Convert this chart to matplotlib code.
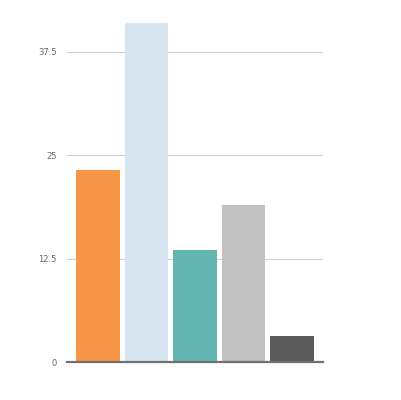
import matplotlib.pyplot as plt

values = [23.2, 41.0, 13.5, 19.0, 3.1]
bar_colors = ['#F79646', '#D6E5F0', '#64B5B0', '#C0C0C0', '#5B5B5B']
y_ticks = [0, 12.5, 25, 37.5]
y_tick_labels = ['0', '12.5', '25', '37.5']

fig = plt.figure(figsize=(4.02, 4.0), dpi=100)
ax = fig.add_axes([0.1667, 0.095, 0.6368, 0.859])

ax.bar(range(len(values)), values, width=0.9, color=bar_colors, zorder=2)

ax.set_xlim(-0.64, len(values) - 1 + 0.64)
ax.set_ylim(0, 41.5)
ax.set_yticks(y_ticks)
ax.set_yticklabels(y_tick_labels)
ax.set_xticks([])

ax.grid(axis='y', color='#D3D3D3', linewidth=0.9, zorder=0)
for side in ['top', 'right', 'left']:
    ax.spines[side].set_visible(False)
ax.spines['bottom'].set_color('#707070')
ax.spines['bottom'].set_linewidth(1.6)
ax.spines['bottom'].set_zorder(3)

ax.tick_params(axis='y', length=0, pad=7.5, labelsize=6, labelcolor='#666666')

plt.savefig("out.png", dpi=100)
